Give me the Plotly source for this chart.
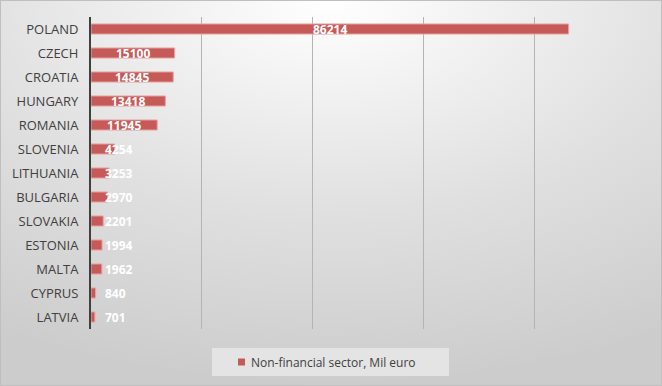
import base64
import plotly.graph_objects as go

countries = ["POLAND", "CZECH", "CROATIA", "HUNGARY", "ROMANIA", "SLOVENIA", "LITHUANIA",
             "BULGARIA", "SLOVAKIA", "ESTONIA", "MALTA", "CYPRUS", "LATVIA"]
values = [86214, 15100, 14845, 13418, 11945, 4254, 3253, 2970, 2201, 1994, 1962, 840, 701]
series_name = "Non-financial sector, Mil euro"

W, H = 662, 386
ML, MR, MT, MB = 91, 17, 17, 57
PW, PH = W - ML - MR, H - MT - MB
XMAX = 100000
px_per_unit = PW / XMAX

bar_color = "#c65a58"


def px(xp):
    return (xp - ML) / PW


def py(yp):
    return 1 - (yp - MT) / PH


svg = f'''<svg xmlns="http://www.w3.org/2000/svg" width="{W}" height="{H}" viewBox="0 0 {W} {H}" preserveAspectRatio="none">
<defs><radialGradient id="g" cx="0.5" cy="0" r="1.0" gradientUnits="objectBoundingBox">
<stop offset="0" stop-color="#ffffff"/><stop offset="0.55" stop-color="#e0e0e0"/><stop offset="1" stop-color="#cccccc"/>
</radialGradient></defs>
<rect x="0" y="0" width="{W}" height="{H}" fill="url(#g)"/>
<rect x="0.5" y="0.5" width="{W-1}" height="{H-1}" fill="none" stroke="#bfbfbf" stroke-width="1"/>
</svg>'''
src = "data:image/svg+xml;base64," + base64.b64encode(svg.encode()).decode()

fig = go.Figure()
fig.add_trace(go.Bar(
    y=countries, x=values, orientation="h", name=series_name,
    marker=dict(color=bar_color, line=dict(color="#e9a3a1", width=1)),
    width=0.42, hoverinfo="x+y", showlegend=False,
))

annotations = []
for c, v in zip(countries, values):
    txt = str(v)
    w = len(txt) * 7.0
    center_px = v * px_per_unit / 2
    if center_px - w / 2 < 12:
        annotations.append(dict(x=12 / px_per_unit, y=c, text=f"<b>{txt}</b>", showarrow=False,
                                xanchor="left", font=dict(color="white", size=12, family="Open Sans")))
    else:
        annotations.append(dict(x=v / 2, y=c, text=f"<b>{txt}</b>", showarrow=False,
                                xanchor="center", font=dict(color="white", size=12, family="Open Sans")))

# manual legend
annotations.append(dict(xref="paper", yref="paper", x=px(249), y=py(362), text=series_name,
                        showarrow=False, xanchor="left", yanchor="middle",
                        font=dict(family="Open Sans", size=12, color="#404040")))
shapes = [
    dict(type="rect", xref="paper", yref="paper", x0=px(212), x1=px(449), y0=py(348), y1=py(376),
         fillcolor="#e4e4e4", line=dict(width=0), layer="below"),
    dict(type="rect", xref="paper", yref="paper", x0=px(238), x1=px(245), y0=py(358.5), y1=py(365.5),
         fillcolor=bar_color, line=dict(width=0)),
]

fig.update_layout(
    width=W, height=H,
    margin=dict(l=ML, r=MR, t=MT, b=MB, autoexpand=False),
    paper_bgcolor="rgba(0,0,0,0)", plot_bgcolor="rgba(0,0,0,0)",
    images=[dict(source=src, xref="paper", yref="paper",
                 x=-ML / PW, y=1 + MT / PH, sizex=W / PW, sizey=H / PH,
                 xanchor="left", yanchor="top", sizing="stretch", layer="below")],
    xaxis=dict(range=[0, XMAX], dtick=20000, showticklabels=False, showgrid=True,
               gridcolor="#b4b4b4", gridwidth=1, zeroline=False, showline=False, fixedrange=True,
               automargin=False),
    yaxis=dict(autorange="reversed", showline=True, linecolor="#404040", linewidth=2,
               ticks="", ticklabelstandoff=8, automargin=False,
               tickfont=dict(family="Open Sans", size=13, color="#404040"), fixedrange=True),
    showlegend=False,
    annotations=annotations,
    shapes=shapes,
    font=dict(family="Open Sans"),
)

fig.write_html("out.html")
